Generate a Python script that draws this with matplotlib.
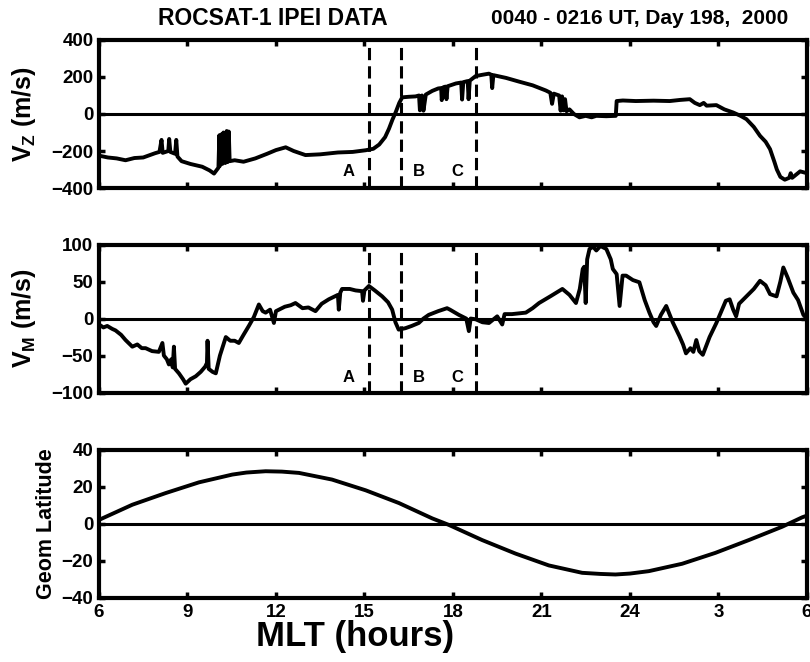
import numpy as np
import matplotlib
matplotlib.use("Agg")
import matplotlib.pyplot as plt

plt.rcParams['font.family'] = ['Liberation Sans', 'DejaVu Sans']
plt.rcParams['font.weight'] = 'bold'
plt.rcParams['mathtext.fontset'] = 'custom'
plt.rcParams['mathtext.bf'] = 'Liberation Sans:bold'
plt.rcParams['mathtext.rm'] = 'Liberation Sans:bold'

# vertical drift
mlt_vz = [6.0, 6.3, 6.6, 6.9, 7.2, 7.5, 7.9, 8.05, 8.12, 8.16, 8.35, 8.38, 8.42, 8.58, 8.62, 8.66,
          8.8, 9.1, 9.5, 9.75, 9.9, 10.05, 10.08, 10.1, 10.15, 10.18, 10.22, 10.28, 10.33, 10.36,
          10.4, 10.43, 10.6, 10.9, 11.3, 11.7, 12.0, 12.33, 12.6, 13.0, 13.5, 14.1, 14.6, 15.04,
          15.3, 15.5, 15.7, 15.83, 15.95, 16.06, 16.18, 16.28, 16.5, 16.73, 16.85, 16.88, 16.95,
          17.0, 17.08, 17.3, 17.5, 17.6, 17.62, 17.68, 17.75, 17.78, 17.82, 18.1, 18.28, 18.31,
          18.35, 18.5, 18.53, 18.57, 18.77, 19.0, 19.22, 19.3, 19.33, 19.37, 19.8, 20.24, 20.7,
          21.15, 21.3, 21.36, 21.42, 21.6, 21.65, 21.7, 21.75, 21.8, 21.85, 21.95, 22.1, 22.29,
          22.5, 22.7, 22.86, 23.2, 23.52, 23.55, 23.76, 24.2, 24.8, 25.35, 25.7, 26.03, 26.2,
          26.37, 26.5, 26.6, 26.93, 27.2, 27.5, 27.75, 27.95, 28.2, 28.41, 28.6, 28.75, 28.9,
          28.98, 29.1, 29.25, 29.4, 29.45, 29.5, 29.77, 30.0]
vz = [-225, -235, -240, -250, -238, -235, -212, -205, -140, -210, -200, -135, -205, -215, -140, -230,
      -255, -270, -285, -305, -322, -290, -115, -280, -110, -270, -100, -265, -92, -260,
      -95, -255, -250, -258, -240, -215, -195, -180, -200, -222, -218, -208, -205, -196,
      -188, -165, -125, -80, -30, 10, 60, 90, 93, 95, 100, 20, 100,
      18, 105, 125, 138, 140, 75, 145, 148, 80, 150, 165, 170, 78,
      172, 178, 80, 180, 205, 212, 218, 212, 140, 210, 195, 175, 155,
      127, 115, 55, 110, 100, 18, 95, 20, 80, 15, 25, 0, -18,
      -10, -18, -10, -12, -10, 70, 73, 70, 72, 70, 76, 80, 60,
      48, 60, 45, 48, 25, 8, -10, -28, -70, -118, -150, -190, -260,
      -300, -340, -355, -345, -320, -345, -310, -320]

# meridional drift
mlt_vm = [6.0, 6.15, 6.28, 6.45, 6.56, 6.75, 6.9, 7.0, 7.13, 7.3, 7.45, 7.58, 7.8, 8.03, 8.1, 8.15,
          8.2, 8.3, 8.37, 8.45, 8.5, 8.54, 8.58, 8.71, 8.85, 8.94, 9.1, 9.28, 9.45, 9.6, 9.66,
          9.68, 9.72, 9.85, 9.96, 10.1, 10.3, 10.45, 10.6, 10.74, 10.9, 11.08, 11.25, 11.42,
          11.55, 11.65, 11.8, 11.93, 12.0, 12.1, 12.3, 12.5, 12.66, 12.9, 13.1, 13.34, 13.55,
          13.79, 14.0, 14.1, 14.13, 14.18, 14.24, 14.5, 14.7, 14.92, 14.95, 15.0, 15.15, 15.35,
          15.6, 15.8, 15.94, 16.05, 16.16, 16.39, 16.6, 16.84, 17.0, 17.18, 17.5, 17.8, 17.9,
          18.2, 18.45, 18.54, 18.6, 18.77, 19.0, 19.22, 19.5, 19.67, 19.75, 20.0, 20.47, 20.7,
          20.92, 21.3, 21.71, 21.95, 22.17, 22.3, 22.4, 22.45, 22.5, 22.55, 22.63, 22.75, 22.86,
          23.0, 23.2, 23.35, 23.42, 23.55, 23.65, 23.75, 23.87, 24.1, 24.32, 24.5, 24.66, 24.8,
          24.89, 25.05, 25.23, 25.45, 25.68, 25.8, 25.9, 26.05, 26.15, 26.25, 26.35, 26.47, 26.7,
          26.93, 27.1, 27.25, 27.38, 27.5, 27.6, 27.7, 27.95, 28.2, 28.41, 28.6, 28.75, 28.97,
          29.1, 29.2, 29.35, 29.54, 29.7, 29.88, 30.0]
vm = [-8, -12, -10, -14, -16, -22, -29, -33, -38, -35, -40, -40, -44, -45, -38, -33,
      -50, -55, -62, -55, -66, -38, -68, -74, -82, -88, -82, -78, -72, -65, -60,
      -30, -68, -72, -74, -50, -25, -30, -30, -33, -22, -10, 2, 19,
      10, 8, 12, -6, 10, 12, 16, 18, 21, 14, 15, 10, 20,
      26, 30, 32, 12, 35, 40, 40, 38, 37, 24, 38, 44, 38,
      30, 22, 12, -5, -15, -13, -10, -6, 0, 5, 10, 14, 12,
      5, 0, -17, 0, -1, -5, -6, 3, -8, 6, 6, 8, 14,
      21, 30, 40, 32, 21, 40, 67, 70, 21, 80, 94, 97, 92,
      98, 94, 80, 67, 60, 17, 58, 58, 52, 49, 25, 8, -5,
      -10, 5, 17, -5, -24, -35, -47, -40, -45, -29, -44, -49, -25,
      -6, 10, 24, 26, 12, 3, 20, 30, 40, 51, 45, 33, 30,
      50, 69, 55, 35, 25, 5, 0]

# geomagnetic latitude of the orbit
mlt_lat = [6.0, 7.13, 8.26, 9.39, 10.52, 11.0, 11.65, 12.2, 12.78, 13.9, 15.04, 16.17, 17.3,
           17.86, 18.99, 20.12, 21.25, 22.38, 23.0, 23.51, 24.0, 24.64, 25.77, 26.9, 28.03,
           29.16, 29.84, 30.0]
lat = [2.2, 10.4, 16.7, 22.5, 26.7, 27.8, 28.5, 28.3, 27.6, 24.0, 18.2, 11.3, 3.0,
       -0.5, -8.7, -16.0, -22.4, -26.4, -27.0, -27.3, -26.8, -25.5, -21.5, -15.6, -8.7,
       -1.5, 3.6, 4.5]

dash_mlt = [15.15, 16.24, 18.78]
region_mlt = [14.47, 16.85, 18.14]
region_names = ['A', 'B', 'C']

xticks = [6, 9, 12, 15, 18, 21, 24, 27, 30]
xticklabels = ['6', '9', '12', '15', '18', '21', '24', '3', '6']

fig = plt.figure(figsize=(8.1, 6.62), dpi=100)
left, width, height = 0.1222, 0.874, 0.2236
ax1 = fig.add_axes([left, 0.716, width, height])
ax2 = fig.add_axes([left, 0.407, width, height])
ax3 = fig.add_axes([left, 0.0967, width, height])


def style_axis(ax, yticks, ylabel, lab_x, lab_size):
    ax.set_xlim(6, 30)
    ax.set_ylim(yticks[0], yticks[-1])
    ax.set_xticks(xticks)
    ax.set_yticks(yticks)
    ax.axhline(0, color='black', lw=2.2, zorder=1)
    for sp in ax.spines.values():
        sp.set_linewidth(3.0)
    ax.tick_params(direction='in', length=4, width=2.5, top=True, right=True,
                   labelsize=13.5, pad=4)
    ax.set_ylabel(ylabel, fontsize=lab_size, fontweight='bold')
    ax.yaxis.set_label_coords(lab_x, 0.5)


style_axis(ax1, [-400, -200, 0, 200, 400], r'$\mathbf{V_Z}$ (m/s)', -0.086, 18)
style_axis(ax2, [-100, -50, 0, 50, 100], r'$\mathbf{V_M}$ (m/s)', -0.086, 18)
style_axis(ax3, [-40, -20, 0, 20, 40], 'Geom Latitude', -0.06, 15.5)

ax1.plot(mlt_vz, vz, color='black', lw=2.8, zorder=3)
ax2.plot(mlt_vm, vm, color='black', lw=2.8, zorder=3)
ax3.plot(mlt_lat, lat, color='black', lw=2.8, zorder=3)

for ax, ytxt in [(ax1, -310), (ax2, -80)]:
    for x in dash_mlt:
        ax.axvline(x, color='black', lw=2.2, ls=(0, (4, 2)), zorder=2)
    for x, name in zip(region_mlt, region_names):
        ax.text(x, ytxt, name, fontsize=12, fontweight='bold', ha='center', va='center')
    ax.set_xticklabels([])

ax3.set_xticklabels(xticklabels)

fig.text(0.337, 0.972, 'ROCSAT-1 IPEI DATA', fontsize=16.5, fontweight='bold',
         ha='center', va='center')
fig.text(0.79, 0.972, '0040 - 0216 UT, Day 198,  2000', fontsize=15, fontweight='bold',
         ha='center', va='center')
fig.text(0.438, 0.039, 'MLT (hours)', fontsize=25, fontweight='bold', ha='center', va='center')

fig.savefig('out.png', dpi=100)
